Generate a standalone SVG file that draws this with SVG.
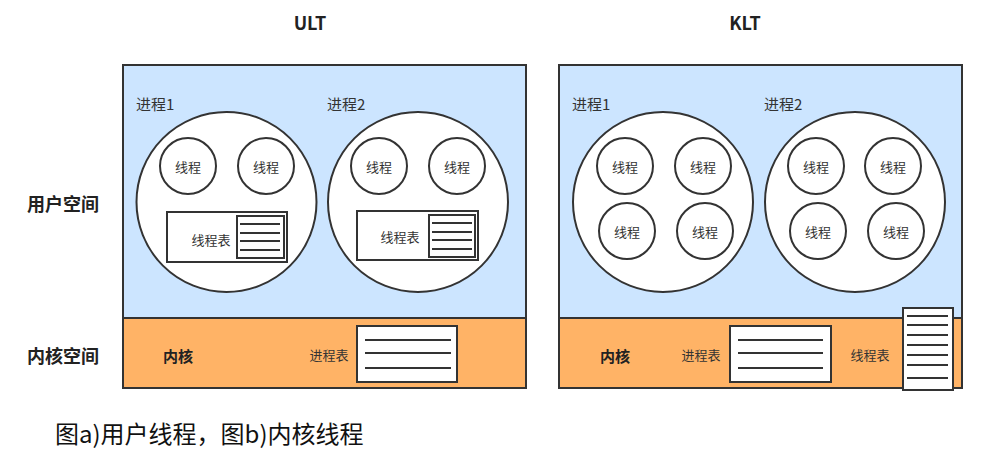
<svg xmlns="http://www.w3.org/2000/svg" width="997" height="454" viewBox="0 0 997 454">
<style>
text{font-family:"Noto Sans CJK SC","Liberation Sans",sans-serif;text-anchor:middle;dominant-baseline:central}
.t{font-size:13px;fill:#333}
.p{font-size:15px;fill:#333;text-anchor:start}
.b{font-weight:bold;font-size:15px;fill:#222}
.h{font-weight:bold;font-size:18px;fill:#222}
.s{stroke:#333;stroke-width:2}
.user{fill:#cce5ff}
.kern{fill:#ffb366}
.w{fill:#fff}
.ln{stroke:#333;stroke-width:1.8}
</style>
<rect width="997" height="454" fill="#fff"/>
<text class="h" x="310" y="22">ULT</text>
<text class="h" x="745" y="22">KLT</text>
<text class="h" x="63" y="203">用户空间</text>
<text class="h" x="63" y="355">内核空间</text>
<g id="ult">
<rect class="s user" x="123" y="65" width="403" height="253"/>
<rect class="s kern" x="123" y="318" width="403" height="70"/>
<text class="p" x="136" y="103">进程1</text>
<text class="p" x="327" y="103">进程2</text>
<circle class="s w" cx="226.5" cy="202" r="90"/>
<circle class="s w" cx="418" cy="202" r="90"/>
<circle class="s w" cx="188" cy="166" r="28"/><text class="t" x="188" y="166">线程</text>
<circle class="s w" cx="266" cy="166" r="28"/><text class="t" x="266" y="166">线程</text>
<circle class="s w" cx="379" cy="166" r="28"/><text class="t" x="379" y="166">线程</text>
<circle class="s w" cx="457" cy="166" r="28"/><text class="t" x="457" y="166">线程</text>
<rect class="s w" x="167" y="212" width="120" height="50"/>
<text class="t" x="211" y="239">线程表</text>
<rect class="s w" x="237" y="216" width="47" height="42"/>
<path class="ln" d="M240 224H280M240 233H280M240 241H280M240 250H280"/>
<rect class="s w" x="357" y="211" width="121" height="49"/>
<text class="t" x="400" y="236">线程表</text>
<rect class="s w" x="429" y="215" width="46" height="42"/>
<path class="ln" d="M432 223H472M432 232H472M432 240H472M432 249H472"/>
<text class="b" x="178" y="355">内核</text>
<text class="t" x="329" y="354">进程表</text>
<rect class="s w" x="357" y="326" width="100" height="56"/>
<path class="ln" d="M365 340H451M365 353H451M365 368H451"/>
</g>
<g id="klt">
<rect class="s user" x="559" y="65" width="403" height="253"/>
<rect class="s kern" x="559" y="318" width="403" height="70"/>
<text class="p" x="572" y="103">进程1</text>
<text class="p" x="764" y="103">进程2</text>
<circle class="s w" cx="663" cy="202" r="90"/>
<circle class="s w" cx="855" cy="202" r="90"/>
<circle class="s w" cx="625" cy="166" r="28"/><text class="t" x="625" y="166">线程</text>
<circle class="s w" cx="703" cy="166" r="28"/><text class="t" x="703" y="166">线程</text>
<circle class="s w" cx="627" cy="231" r="28"/><text class="t" x="627" y="231">线程</text>
<circle class="s w" cx="705" cy="231" r="28"/><text class="t" x="705" y="231">线程</text>
<circle class="s w" cx="816" cy="166" r="28"/><text class="t" x="816" y="166">线程</text>
<circle class="s w" cx="893" cy="166" r="28"/><text class="t" x="893" y="166">线程</text>
<circle class="s w" cx="818" cy="231" r="28"/><text class="t" x="818" y="231">线程</text>
<circle class="s w" cx="896" cy="231" r="28"/><text class="t" x="896" y="231">线程</text>
<text class="b" x="615" y="355">内核</text>
<text class="t" x="701" y="354">进程表</text>
<rect class="s w" x="730" y="326" width="101" height="56"/>
<path class="ln" d="M738 340H823M738 353H823M738 368H823"/>
<text class="t" x="870" y="354">线程表</text>
<rect class="s w" x="903" y="308" width="50" height="82"/>
<path class="ln" d="M907 316H948M907 325H948M907 335H948M907 345H948M907 355H948M907 365H948M907 378H948"/>
</g>
<text x="55" y="432" style="text-anchor:start;font-size:24px;fill:#111">图a)用户线程，图b)内核线程</text>
</svg>
